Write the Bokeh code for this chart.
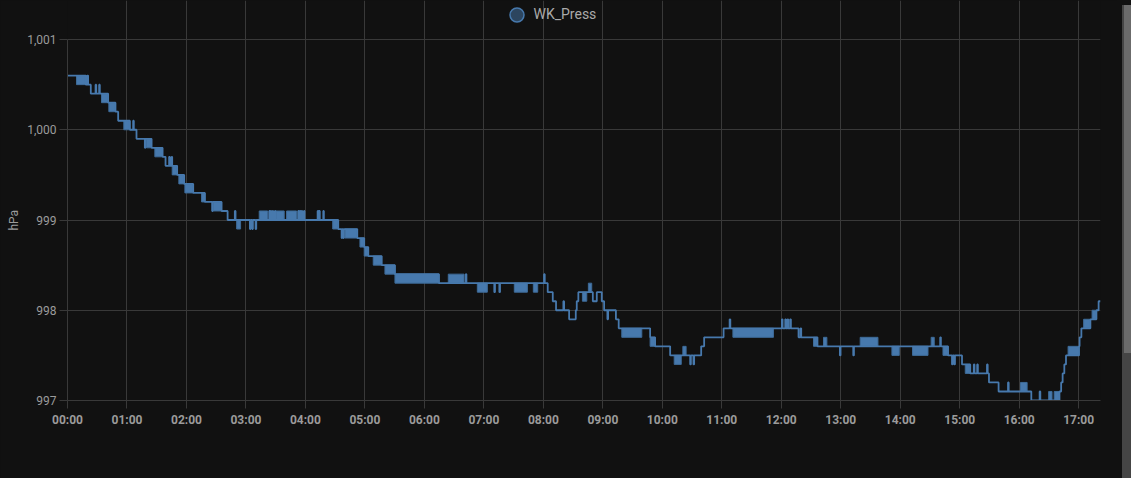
from bokeh.plotting import figure
from bokeh.models import (Range1d, FixedTicker, NumeralTickFormatter, Legend, LegendItem,
                          GlobalInlineStyleSheet, Div, Title)
from bokeh.layouts import row
from bokeh.embed import file_html
from bokeh.resources import INLINE

# ---------------- data ----------------
series_name = "WK_Press"
y_unit = "hPa"

# step series: time in minutes after 00:00, pressure in hPa (value holds until next time)
t_min = [
    0, 18.5, 19.8, 20.8, 23.5, 28.3, 29.0, 31.9, 32.6, 41.0, 48.4, 51.1,
    62.9, 66.2, 66.9, 69.6, 78.0, 78.7, 84.8, 95.9, 98.9, 102.5, 103.2, 105.0, 105.6, 110.6, 117.7,
    126.8, 138.6, 145.9, 146.5, 155.4, 161.5, 168.8, 169.5,
    184.0, 184.7, 186.3, 187.0, 189.7, 190.4, 203.5, 204.1, 204.9, 205.5, 206.9, 207.5, 209.2, 209.8,
    232.7, 233.3, 234.4, 235.0, 236.2, 236.8, 238.5, 239.1,
    252.3, 252.9, 253.9, 254.5, 258.0, 258.6, 273.1, 276.5, 277.1, 278.2, 278.8, 292.3, 299.3,
    303.4, 316.9, 330.3,
    374.7, 401.7, 402.4, 430.5, 431.2, 435.6, 436.3,
    480.7, 481.4, 484.4, 489.5, 492.8, 500.2, 500.9, 506.0, 512.7, 513.7, 515.3, 529.9, 533.9, 538.9,
    541.3, 544.6, 545.3, 553.2, 556.0, 587.7, 592.7,
    607.9, 628.1, 628.8, 631.4, 632.1, 639.2, 642.2,
    661.8, 667.9, 668.6,
    720.6, 721.3, 724.0, 724.7, 726.3, 727.0, 729.0, 729.7, 737.4, 739.4, 740.1, 756.5, 779.1, 779.8,
    792.6, 793.3,
    880.3, 881.0, 888.2, 892.2, 892.9, 894.5, 895.2,
    902.3, 910.6, 914.2, 914.9, 917.6, 918.3, 927.5, 928.2, 929.5, 939.2, 948.7, 949.4,
    972.2, 980.6, 981.3, 1000.6, 1002.3, 1003.8, 1005.5, 1007.2,
    1020.3, 1020.9, 1022.7, 1031.8, 1037.9, 1040.1, 1042.0,
]
p_hpa = [
    1000.6, 1000.5, 1000.6, 1000.5, 1000.4, 1000.5, 1000.4, 1000.5, 1000.4, 1000.3, 1000.2, 1000.1,
    1000.0, 1000.1, 1000.0, 999.9, 999.8, 999.9, 999.8, 999.7, 999.6, 999.7, 999.6, 999.7, 999.6, 999.5, 999.4,
    999.3, 999.2, 999.1, 999.2, 999.1, 999.0, 999.1, 999.0,
    998.9, 999.0, 998.9, 999.0, 998.9, 999.0, 999.1, 999.0, 999.1, 999.0, 999.1, 999.0, 999.1, 999.0,
    999.1, 999.0, 999.1, 999.0, 999.1, 999.0, 999.1, 999.0,
    999.1, 999.0, 999.1, 999.0, 999.1, 999.0, 998.9, 998.8, 998.9, 998.8, 998.9, 998.8, 998.7,
    998.6, 998.5, 998.4,
    998.3, 998.4, 998.3, 998.2, 998.3, 998.2, 998.3,
    998.4, 998.3, 998.2, 998.1, 998.0, 998.1, 998.0, 997.9, 998.0, 998.1, 998.2, 998.1, 998.2, 998.1,
    998.0, 997.9, 998.0, 997.9, 997.8, 997.7, 997.6,
    997.5, 997.4, 997.5, 997.4, 997.5, 997.6, 997.7,
    997.8, 997.9, 997.8,
    997.9, 997.8, 997.9, 997.8, 997.9, 997.8, 997.9, 997.8, 997.7, 997.8, 997.7, 997.6, 997.5, 997.6,
    997.5, 997.6,
    997.7, 997.6, 997.5, 997.4, 997.5, 997.4, 997.5,
    997.4, 997.3, 997.4, 997.3, 997.4, 997.3, 997.4, 997.3, 997.2, 997.1, 997.2, 997.1,
    997.0, 997.1, 997.0, 997.1, 997.2, 997.3, 997.4, 997.5,
    997.6, 997.7, 997.8, 997.9, 998.0, 998.1, 998.1,
]

# periods of rapid flicker between two adjacent readings (drawn as filled bands)
blk_start = [9.1, 34.3, 41.7, 56.8, 79.7, 88.1, 105.6, 112.3, 118.4, 135.2, 146.9, 170.6,
             193.4, 210.2, 221.0, 267.5, 279.9, 295.0, 299.3, 308.4, 320.2, 330.3, 384.1,
             413.4, 450.7, 469.9, 519.4, 525.4, 559.1, 587.7, 612.0, 620.7, 671.2, 752.5,
             762.6, 799.6, 831.6, 852.4, 871.2, 883.1, 905.6, 961.3, 989.7, 995.3, 1009.3,
             1025.0, 1033.5]
blk_end = [18.5, 41.0, 48.4, 62.9, 84.8, 95.9, 110.6, 117.7, 126.8, 138.6, 155.4, 174.6,
           201.9, 218.6, 231.1, 273.1, 292.3, 299.3, 303.4, 316.9, 330.3, 374.7, 400.0,
           423.5, 463.9, 474.3, 523.8, 528.8, 579.3, 592.7, 619.1, 624.0, 712.1, 756.5,
           766.0, 817.5, 839.0, 868.0, 874.3, 888.2, 910.6, 968.0, 993.1, 1000.6, 1020.3,
           1031.8, 1037.9]
blk_lo = [1000.5, 1000.3, 1000.2, 1000.0, 999.8, 999.7, 999.5, 999.4, 999.3, 999.2, 999.1, 998.9,
          999.0, 999.0, 999.0, 998.9, 998.8, 998.7, 998.6, 998.5, 998.4, 998.3, 998.3,
          998.2, 998.2, 998.2, 998.1, 998.2, 997.7, 997.6, 997.4, 997.5, 997.7, 997.6,
          997.6, 997.6, 997.5, 997.5, 997.6, 997.5, 997.3, 997.1, 997.0, 997.0, 997.5,
          997.8, 997.9]
blk_hi = [1000.6, 1000.4, 1000.3, 1000.1, 999.9, 999.8, 999.6, 999.5, 999.4, 999.3, 999.2, 999.0,
          999.1, 999.1, 999.1, 999.0, 998.9, 998.8, 998.7, 998.6, 998.5, 998.4, 998.4,
          998.3, 998.3, 998.3, 998.2, 998.3, 997.8, 997.7, 997.5, 997.6, 997.8, 997.7,
          997.7, 997.7, 997.6, 997.6, 997.7, 997.6, 997.4, 997.2, 997.1, 997.1, 997.6,
          997.9, 998.0]

x_ticks = [0, 60, 120, 180, 240, 300, 360, 420, 480, 540, 600, 660, 720, 780, 840, 900, 960, 1020]
x_tick_labels = ["00:00", "01:00", "02:00", "03:00", "04:00", "05:00", "06:00", "07:00", "08:00",
                 "09:00", "10:00", "11:00", "12:00", "13:00", "14:00", "15:00", "16:00", "17:00"]
y_ticks = [997, 998, 999, 1000, 1001]

# ---------------- style / layout ----------------
BG = "#111111"
LINE = "#4779ad"
GRID = "#393939"
TXT = "#9b9b9b"
FONT = "Roboto"

FRAME_H = 400          # frame spans the canvas from the top down to the 997 line
PLOT_H = 361           # pixel height of the 997..1001 value band
y_lo, y_hi = y_ticks[0], y_ticks[-1]
y_top = y_hi + (y_hi - y_lo) * (FRAME_H - PLOT_H) / PLOT_H   # empty headroom for the legend

p = figure(width=1117, height=478, output_backend="svg", toolbar_location=None,
           x_range=Range1d(t_min[0], t_min[-1]), y_range=Range1d(y_lo, y_top),
           min_border_left=67, min_border_right=17, min_border_top=0, min_border_bottom=78,
           background_fill_color=BG, border_fill_color=BG, outline_line_color=None)

p.quad(left=blk_start, right=blk_end, bottom=blk_lo, top=blk_hi,
       fill_color=LINE, fill_alpha=1.0, line_color="#3e6b98", line_width=1)
p.step(x=t_min, y=p_hpa, mode="after", line_color=LINE, line_width=1.8)

# legend key: a hidden circle renderer that only provides the legend glyph
key = p.scatter(x=t_min[:1], y=p_hpa[:1], marker="circle", size=15, fill_color=LINE,
                fill_alpha=0.5, line_color=LINE, line_width=1.5, visible=False)
legend = Legend(items=[LegendItem(label=series_name, renderers=[key])],
                location=(431.5, 368.5), orientation="horizontal",
                glyph_width=35, glyph_height=35, padding=0, margin=0, label_standoff=0,
                background_fill_alpha=0, border_line_color=None, inactive_fill_alpha=0,
                label_text_color="#aaaaaa", label_text_font=FONT, label_text_font_size="14px")
p.add_layout(legend, "center")

p.xgrid.grid_line_color = GRID
p.ygrid.grid_line_color = GRID
p.xgrid.ticker = FixedTicker(ticks=x_ticks)
p.ygrid.ticker = FixedTicker(ticks=y_ticks)
p.xgrid.bounds = (y_lo, y_hi)

xa = p.xaxis[0]
xa.ticker = FixedTicker(ticks=x_ticks)
xa.major_label_overrides = {t: lab for t, lab in zip(x_ticks, x_tick_labels)}
xa.major_label_text_font = FONT
xa.major_label_text_font_style = "bold"
xa.major_label_text_font_size = "12px"
xa.major_label_text_color = TXT
xa.major_label_standoff = 4
xa.major_tick_out = 8
xa.major_tick_in = 0
xa.minor_tick_out = 0
xa.minor_tick_in = 0
xa.major_tick_line_color = GRID
xa.axis_line_color = GRID

ya = p.yaxis[0]
ya.bounds = (y_lo, y_hi)
ya.ticker = FixedTicker(ticks=y_ticks)
ya.formatter = NumeralTickFormatter(format="0,0")
ya.major_label_text_font = FONT
ya.major_label_text_font_size = "12px"
ya.major_label_text_color = TXT
ya.major_label_standoff = 3
ya.major_tick_out = 8
ya.major_tick_in = 0
ya.minor_tick_out = 0
ya.minor_tick_in = 0
ya.major_tick_line_color = GRID
ya.axis_line_color = GRID

# unit label, centred on the 997..1001 band (not on the whole frame)
unit_title = Title(text=y_unit, align="left", offset=170, standoff=7,
                   text_font=FONT, text_font_size="12px", text_font_style="normal",
                   text_color=TXT)
p.add_layout(unit_title, "left")

scrollbar = Div(text="", width=14, height=478,
                styles={"background": "linear-gradient(#6b6b6b 0px, #6b6b6b 348px, #454545 348px)",
                        "border-left": "2px solid #454545", "box-sizing": "border-box"})

page = row(p, scrollbar, stylesheets=[GlobalInlineStyleSheet(
    css="html, body { margin: 0; padding: 0; background: #111111; overflow: hidden; }")])

open("out.html", "w").write(file_html(page, INLINE))
